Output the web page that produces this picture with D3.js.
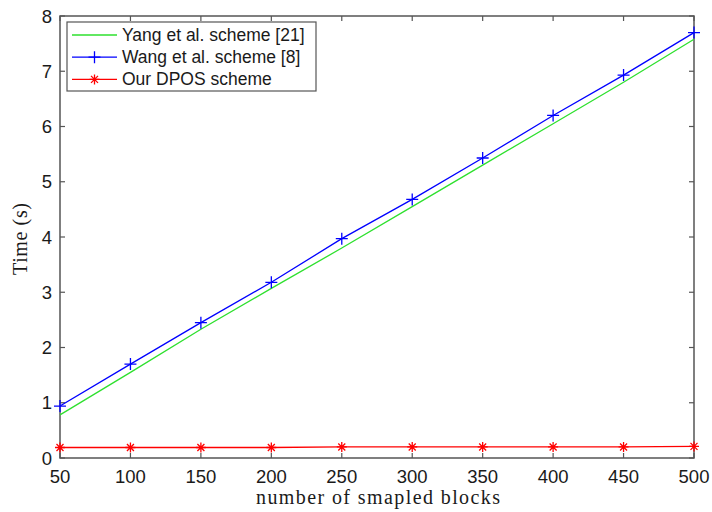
<!DOCTYPE html>
<html>
<head>
<meta charset="utf-8">
<script src="https://cdn.jsdelivr.net/npm/d3@7"></script>
<style>
  body { margin: 0; background: #fff; }
  svg { display: block; }
</style>
</head>
<body>
<svg width="712" height="512"></svg>
<script>
const blocks = [50, 100, 150, 200, 250, 300, 350, 400, 450, 500];
const yangTime = [0.78, 1.55, 2.33, 3.07, 3.8, 4.55, 5.3, 6.05, 6.8, 7.58];
const wangTime = [0.94, 1.7, 2.45, 3.18, 3.97, 4.68, 5.43, 6.2, 6.93, 7.7];
const dposTime = [0.19, 0.19, 0.19, 0.19, 0.2, 0.2, 0.2, 0.2, 0.2, 0.21];
const xTicks = [50, 100, 150, 200, 250, 300, 350, 400, 450, 500];
const yTicks = [0, 1, 2, 3, 4, 5, 6, 7, 8];

const series = [
	{ name: "Yang et al. scheme [21]", values: yangTime, color: "#2ee02e", marker: null },
	{ name: "Wang et al. scheme [8]", values: wangTime, color: "#0000ff", marker: "plus" },
	{ name: "Our DPOS scheme", values: dposTime, color: "#ff0000", marker: "star" }
];

const svg = d3.select("svg");
const plotL = 60, plotR = 694, plotT = 16, plotB = 458;
const axisColor = "#555";
const textColor = "#1a1a1a";

const x = d3.scaleLinear().domain([50, 500]).range([plotL, plotR]);
const y = d3.scaleLinear().domain([0, 8]).range([plotB, plotT]);

// box
svg.append("rect")
	.attr("x", plotL).attr("y", plotT)
	.attr("width", plotR - plotL).attr("height", plotB - plotT)
	.attr("fill", "none").attr("stroke", axisColor).attr("stroke-width", 1.5);

// ticks (inside, on all four sides)
const tickLen = 5;
const g = svg.append("g").attr("stroke", axisColor).attr("stroke-width", 1.2);
xTicks.forEach(t => {
	g.append("line").attr("x1", x(t)).attr("x2", x(t)).attr("y1", plotB).attr("y2", plotB - tickLen);
	g.append("line").attr("x1", x(t)).attr("x2", x(t)).attr("y1", plotT).attr("y2", plotT + tickLen);
});
yTicks.forEach(t => {
	g.append("line").attr("x1", plotL).attr("x2", plotL + tickLen).attr("y1", y(t)).attr("y2", y(t));
	g.append("line").attr("x1", plotR).attr("x2", plotR - tickLen).attr("y1", y(t)).attr("y2", y(t));
});

// tick labels
svg.selectAll("text.xt")
	.data(xTicks)
	.enter()
	.append("text")
		.attr("class", "xt")
		.attr("x", d => x(d))
		.attr("y", plotB + 25)
		.attr("text-anchor", "middle")
		.attr("font-family", "Liberation Sans, Arial, sans-serif")
		.attr("font-size", "18.5px")
		.attr("fill", textColor)
		.text(d => d);

svg.selectAll("text.yt")
	.data(yTicks)
	.enter()
	.append("text")
		.attr("class", "yt")
		.attr("x", plotL - 8)
		.attr("y", d => y(d) + 6.5)
		.attr("text-anchor", "end")
		.attr("font-family", "Liberation Sans, Arial, sans-serif")
		.attr("font-size", "18.5px")
		.attr("fill", textColor)
		.text(d => d);

// axis titles
svg.append("text")
	.attr("x", 378)
	.attr("y", 504)
	.attr("text-anchor", "middle")
	.attr("font-family", "Liberation Serif, Times New Roman, serif")
	.attr("font-size", "20px")
	.attr("textLength", 244)
	.attr("lengthAdjust", "spacing")
	.attr("fill", textColor)
	.text("number of smapled blocks");

svg.append("text")
	.attr("transform", "translate(27,239) rotate(-90)")
	.attr("text-anchor", "middle")
	.attr("font-family", "Liberation Serif, Times New Roman, serif")
	.attr("font-size", "20px")
	.attr("textLength", 72)
	.attr("lengthAdjust", "spacing")
	.attr("fill", textColor)
	.text("Time (s)");

// lines
const line = d3.line().x((d, i) => x(blocks[i])).y(d => y(d));

function drawMarker(sel, type, color, cx, cy) {
	const s = 6;
	if (type === "plus") {
		sel.append("path")
			.attr("d", `M${cx - s},${cy}H${cx + s}M${cx},${cy - s}V${cy + s}`)
			.attr("stroke", color).attr("stroke-width", 1.3).attr("fill", "none");
	} else if (type === "star") {
		const r = 5, d = r * 0.7;
		sel.append("path")
			.attr("d", `M${cx - r},${cy}H${cx + r}M${cx},${cy - r}V${cy + r}` +
				`M${cx - d},${cy - d}L${cx + d},${cy + d}M${cx - d},${cy + d}L${cx + d},${cy - d}`)
			.attr("stroke", color).attr("stroke-width", 1.3).attr("fill", "none");
	}
}

series.forEach(s => {
	svg.append("path")
		.datum(s.values)
		.attr("d", line)
		.attr("fill", "none")
		.attr("stroke", s.color)
		.attr("stroke-width", 1.3);
	if (s.marker) {
		const mg = svg.append("g");
		s.values.forEach((v, i) => drawMarker(mg, s.marker, s.color, x(blocks[i]), y(v)));
	}
});

// legend
const lg = svg.append("g");
lg.append("rect")
	.attr("x", 67).attr("y", 22).attr("width", 249).attr("height", 69)
	.attr("fill", "#fff").attr("stroke", axisColor).attr("stroke-width", 1.2);
series.forEach((s, i) => {
	const ly = 35 + i * 22.2;
	lg.append("line")
		.attr("x1", 72).attr("x2", 117).attr("y1", ly).attr("y2", ly)
		.attr("stroke", s.color).attr("stroke-width", 1.3);
	if (s.marker) drawMarker(lg, s.marker, s.color, 94.5, ly);
	lg.append("text")
		.attr("x", 122).attr("y", ly + 6)
		.attr("font-family", "Liberation Sans, Arial, sans-serif")
		.attr("font-size", "17.5px")
		.attr("fill", textColor)
		.text(s.name);
});
</script>
</body>
</html>
